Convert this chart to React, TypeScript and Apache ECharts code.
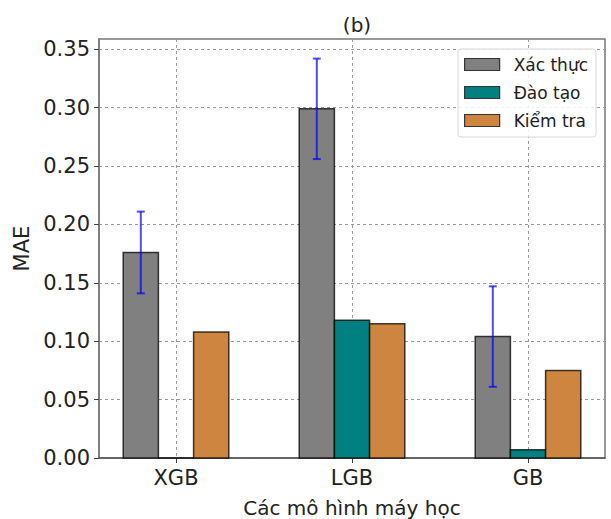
import React, { useEffect, useRef } from "react";
import * as echarts from "echarts";

const categories = ["XGB", "LGB", "GB"];
const seriesNames = ["Xác thực", "Đào tạo", "Kiểm tra"];
const validationMAE = [0.176, 0.299, 0.104];
const validationErr = [0.035, 0.043, 0.043];
const trainMAE = [0.0, 0.118, 0.007];
const testMAE = [0.108, 0.115, 0.075];
const yTicks = [0, 0.05, 0.1, 0.15, 0.2, 0.25, 0.3, 0.35];
const seriesColors = ["#808080", "#008080", "#cd853f"];

const BAR_W = 0.2;
const FONT = "DejaVu Sans";

export default function App() {
  const ref = useRef<HTMLDivElement>(null);
  useEffect(() => {
    if (!ref.current) return;
    const chart = echarts.init(ref.current, undefined, { renderer: "svg" });
    const groups = [validationMAE, trainMAE, testMAE];
    const offsets = [-BAR_W, 0, BAR_W];
    const xTicks = categories.map((_, i) => i);

    const barRender = (color: string) => (params: any, api: any) => {
      const x = api.value(0);
      const v = api.value(1);
      const p1 = api.coord([x - BAR_W / 2, v]);
      const p2 = api.coord([x + BAR_W / 2, 0]);
      return {
        type: "rect",
        shape: { x: p1[0], y: p1[1], width: p2[0] - p1[0], height: p2[1] - p1[1] },
        style: { fill: color, stroke: "rgba(0,0,0,0.75)", lineWidth: 1.5 },
      };
    };

    const barSeries = groups.map((vals, gi) => ({
      type: "custom",
      name: seriesNames[gi],
      renderItem: barRender(seriesColors[gi]),
      itemStyle: { color: seriesColors[gi], borderColor: "#333", borderWidth: 1.2 },
      encode: { x: 0, y: 1 },
      data: vals.map((v, i) => [i + offsets[gi], v]),
      z: 3,
    }));

    const errSeries = {
      type: "custom",
      name: "err",
      renderItem: (params: any, api: any) => {
        const x = api.value(0);
        const lo = api.value(1);
        const hi = api.value(2);
        const pl = api.coord([x, lo]);
        const ph = api.coord([x, hi]);
        const cap = 4;
        const st = { stroke: "rgba(0,0,255,0.7)", lineWidth: 2 };
        return {
          type: "group",
          children: [
            { type: "line", shape: { x1: pl[0], y1: pl[1], x2: ph[0], y2: ph[1] }, style: st },
            { type: "line", shape: { x1: pl[0] - cap, y1: pl[1], x2: pl[0] + cap, y2: pl[1] }, style: st },
            { type: "line", shape: { x1: ph[0] - cap, y1: ph[1], x2: ph[0] + cap, y2: ph[1] }, style: st },
          ],
        };
      },
      encode: { x: 0, y: [1, 2] },
      data: validationMAE.map((v, i) => [i + offsets[0], v - validationErr[i], v + validationErr[i]]),
      z: 5,
    };

    chart.setOption({
      animation: false,
      textStyle: { fontFamily: FONT },
      title: {
        text: "(b)",
        left: 352,
        top: 10,
        textAlign: "center",
        textStyle: { fontFamily: FONT, fontSize: 20, fontWeight: "normal", color: "#222" },
      },
      grid: {
        left: 99,
        right: 6,
        top: 39,
        bottom: 61,
        outerBoundsMode: "none",
        containLabel: false,
        show: true,
        borderColor: "#777",
        borderWidth: 1.5,
        backgroundColor: "transparent",
      },
      legend: {
        orient: "vertical",
        right: 15,
        top: 49,
        padding: [7, 8, 8, 6],
        itemWidth: 35,
        itemHeight: 12,
        itemGap: 11,
        icon: "rect",
        backgroundColor: "rgba(255,255,255,0.85)",
        borderColor: "#d8d8d8",
        borderWidth: 1,
        borderRadius: 3,
        textStyle: { fontFamily: FONT, fontSize: 17, color: "#222", padding: [0, 0, 0, 9] },
        data: seriesNames.map((n, i) => ({
          name: n,
          itemStyle: { color: seriesColors[i], borderColor: "#333", borderWidth: 1.2 },
        })),
      },
      xAxis: {
        type: "value",
        min: -0.4375,
        max: 2.4375,
        name: "Các mô hình máy học",
        nameLocation: "middle",
        nameGap: 40,
        nameTextStyle: { fontFamily: FONT, fontSize: 20, color: "#222" },
        axisLine: { show: true, onZero: false, lineStyle: { color: "#555", width: 1.5 } },
        axisTick: { show: true, customValues: xTicks, length: 5, lineStyle: { color: "#444" } },
        axisLabel: {
          customValues: xTicks,
          margin: 9,
          fontFamily: FONT,
          fontSize: 21,
          color: "#222",
          formatter: (v: number) => categories[Math.round(v)] ?? "",
        },
        splitLine: { show: true, lineStyle: { color: "#9a9a9a", width: 1, type: [3, 3] } },
      },
      yAxis: {
        type: "value",
        min: 0,
        max: 0.3588,
        interval: 0.05,
        name: "MAE",
        nameLocation: "middle",
        nameGap: 59,
        nameTextStyle: { fontFamily: FONT, fontSize: 21, color: "#222" },
        axisLine: { show: true, onZero: false, lineStyle: { color: "#777", width: 1.5 } },
        axisTick: { show: true, customValues: yTicks, length: 5, lineStyle: { color: "#444" } },
        axisLabel: {
          customValues: yTicks,
          margin: 9,
          fontFamily: FONT,
          fontSize: 21,
          color: "#222",
          formatter: (v: number) => v.toFixed(2),
        },
        splitLine: { show: true, lineStyle: { color: "#9a9a9a", width: 1, type: [3, 3] } },
      },
      series: [...barSeries, errSeries],
    });
    return () => chart.dispose();
  }, []);
  return <div ref={ref} style={{ width: 611, height: 519, position: "absolute", left: 0, top: 0 }} />;
}
